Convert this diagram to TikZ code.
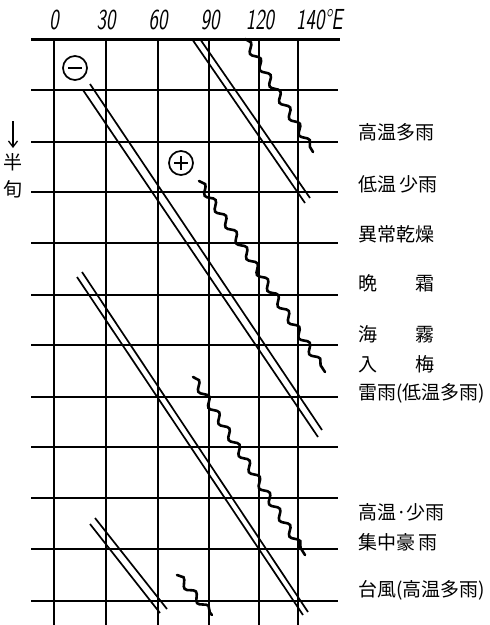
\documentclass[tikz,border=0pt]{standalone}
\usepackage{fontspec}
\usepackage{graphicx}
\newfontfamily\jp{Noto Sans CJK JP}
\usetikzlibrary{decorations.pathmorphing,arrows.meta}
\newcommand\talltxt[1]{\scalebox{1}[1.45]{#1}}
\begin{document}
\begin{tikzpicture}[x=1pt,y=-1pt,
  gridline/.style={line width=1.5pt},
  topaxis/.style={line width=3pt},
  pairline/.style={line width=1.7pt},
  wave/.style={line width=2.6pt,line cap=round,decorate,decoration={snake,segment length=19pt,amplitude=3.4pt}},
  lbl/.style={anchor=west,inner sep=0pt,font=\jp\fontsize{19}{19}\selectfont},
  sidelbl/.style={inner sep=0pt,font=\jp\fontsize{19}{19}\selectfont},
  num/.style={inner sep=0pt,anchor=base,font=\fontsize{20}{20}\sffamily\slshape},
  sign/.style={circle,draw,line width=1.7pt,minimum size=24pt,inner sep=0pt}]
\useasboundingbox (0,0) rectangle (490,625);
% vertical grid lines
\foreach \x in {54,106,158,209,259,298} \draw[gridline] (\x,39) -- (\x,625);
% horizontal grid lines
\foreach \y in {90,142,192,243,295,345,397,447,498,549,601} \draw[gridline] (31,\y) -- (338,\y);
\draw[topaxis] (31,39) -- (340,39);
% axis labels
\node[num] (l0) at (54,29) {\talltxt{0}};
\node[num] (l30) at (106,29) {\talltxt{30}};
\node[num] (l60) at (158,29) {\talltxt{60}};
\node[num] (l90) at (210,29) {\talltxt{90}};
\node[num] (l120) at (260,29) {\talltxt{120}};
\node[num,anchor=base west] (l140) at (296,29) {\talltxt{140\textdegree E}};
% left label
\coordinate (arrtop) at (13,121);
\coordinate (arrbot) at (13,148);
\draw[line width=1.3pt,-{Straight Barb[length=6pt,width=9pt]}] (arrtop) -- (arrbot);
\node[sidelbl] (han) at (13,162) {半};
\node[sidelbl] (jun) at (13,189) {旬};
% signs
\node[sign] (minus) at (75,68) {};
\draw[line width=1.3pt] ([xshift=-7pt]minus.center) -- ([xshift=7pt]minus.center);
\node[sign] (plus) at (181,163) {};
\draw[line width=1.3pt] ([xshift=-7pt]plus.center) -- ([xshift=7pt]plus.center);
\draw[line width=1.3pt] ([yshift=-7pt]plus.center) -- ([yshift=7pt]plus.center);
% double lines
\draw[pairline] (192,39) -- (305,203);
\draw[pairline] (200,39) -- (310,198);
\draw[pairline] (83,90) -- (318,437);
\draw[pairline] (90,84) -- (322,430);
\draw[pairline] (77,277) -- (303,615);
\draw[pairline] (82,272) -- (308,612);
\draw[pairline] (90,524) -- (160,613);
\draw[pairline] (95,518) -- (167,609);
% wavy lines
\draw[wave] (245,39) -- (313,152);
\draw[wave] (199,181) -- (325,372);
\draw[wave] (193,377) -- (305,555);
\draw[wave] (177,575) -- (212,615);
% right labels
\node[lbl] (t1) at (358,132) {高温多雨};
\node[lbl] (t2) at (358,184) {低温\,少雨};
\node[lbl] (t3) at (358,234) {異常乾燥};
\node[lbl] (t4) at (358,283) {晩\hspace{38pt}霜};
\node[lbl] (t5) at (358,334) {海\hspace{38pt}霧};
\node[lbl] (t6) at (358,364) {入\hspace{38pt}梅};
\node[lbl] (t7) at (358,393) {雷雨(低温多雨)};
\node[lbl] (t8) at (358,512) {高温·少雨};
\node[lbl] (t9) at (358,542) {集中豪\,雨};
\node[lbl] (t10) at (358,590) {台風(高温多雨)};
\end{tikzpicture}
\end{document}
